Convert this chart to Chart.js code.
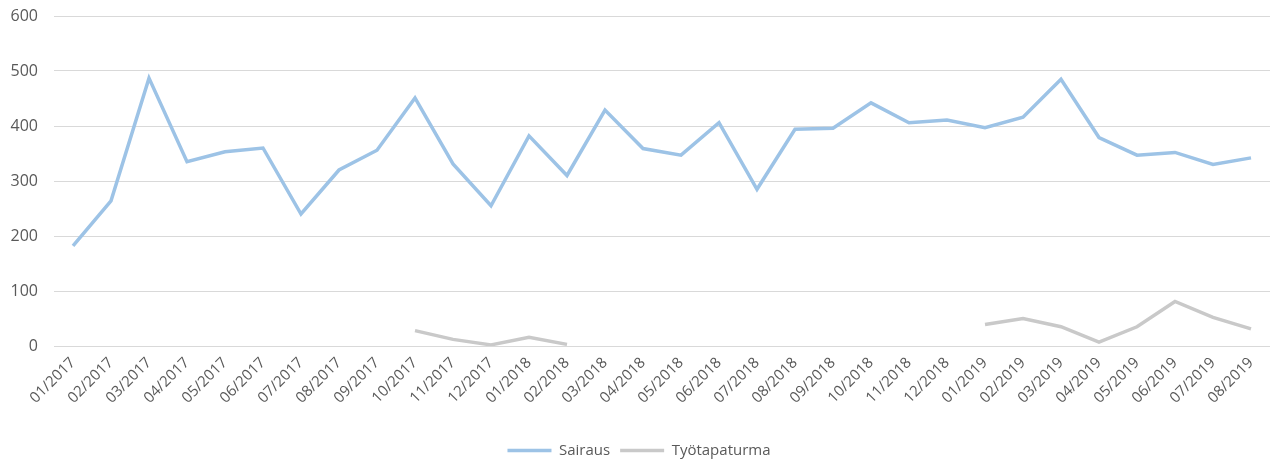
<!DOCTYPE html>
<html lang="fi">
<head>
<meta charset="UTF-8">
<title>Sairaus / Työtapaturma</title>
<script src="https://cdn.jsdelivr.net/npm/chart.js"></script>
<style>
  body { margin: 0; background: #fff; overflow: hidden; }
  #wrap { width: 1274px; height: 468px; }
</style>
</head>
<body>
<div id="wrap"><canvas id="chart"></canvas></div>
<script>
const months = ['01/2017','02/2017','03/2017','04/2017','05/2017','06/2017','07/2017','08/2017',
  '09/2017','10/2017','11/2017','12/2017','01/2018','02/2018','03/2018','04/2018','05/2018',
  '06/2018','07/2018','08/2018','09/2018','10/2018','11/2018','12/2018','01/2019','02/2019',
  '03/2019','04/2019','05/2019','06/2019','07/2019','08/2019'];

const sairaus = [182, 264, 487, 335, 353, 360, 240, 320, 356, 451, 331, 255, 382, 310, 429, 359,
  347, 406, 285, 394, 396, 442, 406, 411, 397, 416, 485, 379, 347, 352, 330, 342];

const tyotapaturma = [null, null, null, null, null, null, null, null, null, 28, 12, 2, 16, 3,
  null, null, null, null, null, null, null, null, null, null, 39, 50, 35, 7, 35, 81, 52, 31];

const yTicks = [0, 100, 200, 300, 400, 500, 600];

const fontFamily = "'Open Sans', 'Noto Sans', sans-serif";
const textColor = '#595959';

new Chart(document.getElementById('chart'), {
  type: 'line',
  data: {
    labels: months,
    datasets: [{
      label: 'Sairaus',
      data: sairaus,
      borderColor: '#9dc3e6',
      backgroundColor: '#9dc3e6',
      borderWidth: 3.5,
      pointRadius: 0,
      tension: 0
    }, {
      label: 'Työtapaturma',
      data: tyotapaturma,
      borderColor: '#c9c9c9',
      backgroundColor: '#c9c9c9',
      borderWidth: 3.5,
      pointRadius: 0,
      tension: 0,
      spanGaps: false
    }]
  },
  options: {
    responsive: true,
    maintainAspectRatio: false,
    animation: false,
    layout: { padding: { top: 16, right: 4, left: 8, bottom: 0 } },
    plugins: {
      legend: {
        position: 'bottom',
        labels: {
          usePointStyle: true,
          pointStyle: 'line',
          pointStyleWidth: 44,
          color: textColor,
          font: { family: fontFamily, size: 15 },
          padding: 10
        }
      },
      tooltip: { enabled: false }
    },
    scales: {
      x: {
        offset: true,
        grid: { display: false },
        border: { display: false },
        afterFit: axis => { axis.height = 87; },
        ticks: {
          color: textColor,
          font: { family: fontFamily, size: 15 },
          minRotation: 45,
          maxRotation: 45,
          autoSkip: false,
          padding: 0
        }
      },
      y: {
        min: 0,
        max: 600,
        afterBuildTicks: axis => { axis.ticks = yTicks.map(v => ({ value: v })); },
        afterFit: axis => { axis.width = 46; axis.paddingTop = 0; },
        grid: { color: '#d9d9d9', lineWidth: 1, drawTicks: false },
        border: { display: false },
        ticks: {
          color: textColor,
          font: { family: fontFamily, size: 16 },
          padding: 16
        }
      }
    }
  }
});
</script>
</body>
</html>
